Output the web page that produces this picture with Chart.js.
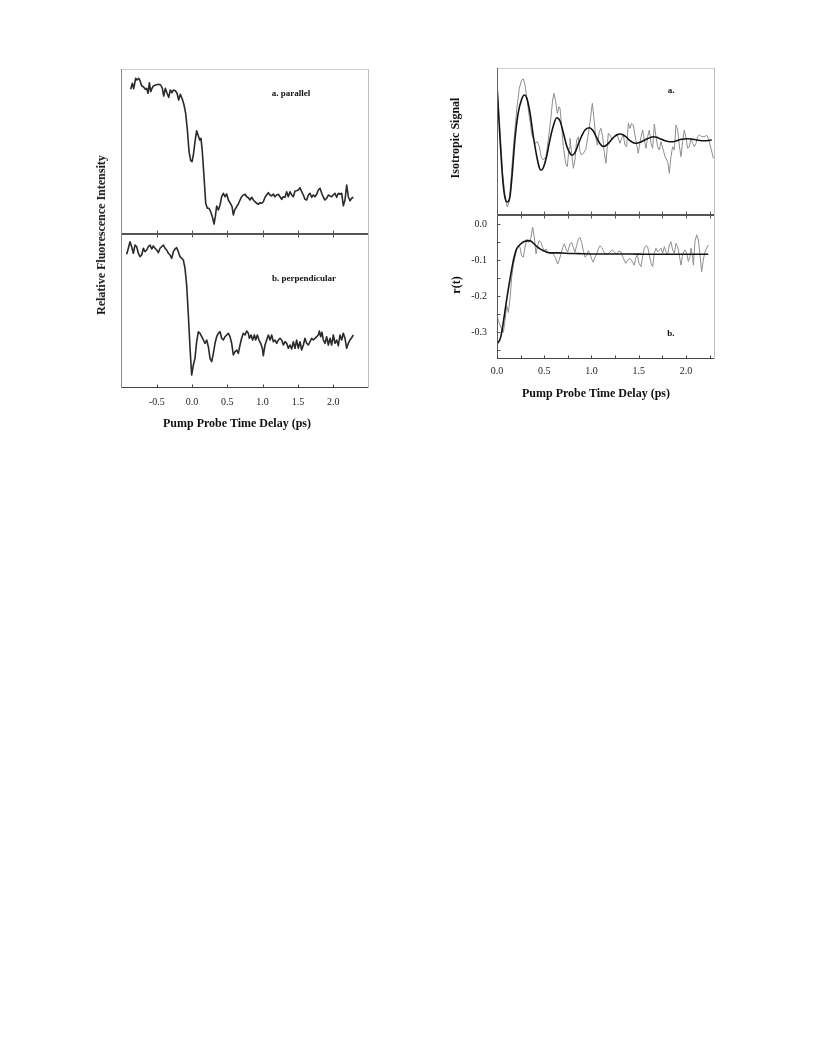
<!DOCTYPE html>
<html><head><meta charset="utf-8">
<script src="https://cdn.jsdelivr.net/npm/chart.js@4.4.1/dist/chart.umd.min.js"></script>
<style>
html,body{margin:0;padding:0;background:#fff;}
body{width:816px;height:1056px;position:relative;overflow:hidden;font-family:"Liberation Serif","Times New Roman",serif;}
canvas{position:absolute;}
.t{position:absolute;white-space:nowrap;font-weight:bold;color:#111;line-height:1;transform:translate(-50%,-50%);}
.r{transform:translate(-50%,-50%) rotate(-90deg);}
.s{font-size:9px;}
.b{font-size:12px;}
</style></head><body>
<canvas id="cA" width="268" height="185" style="left:111px;top:59px"></canvas>
<canvas id="cB" width="280" height="200" style="left:100px;top:224px"></canvas>
<canvas id="cC" width="238" height="167" style="left:487px;top:58px"></canvas>
<canvas id="cD" width="295" height="185" style="left:430px;top:205px"></canvas>

<div class="t s" style="left:291px;top:93px">a. parallel</div>
<div class="t s" style="left:304px;top:278px">b. perpendicular</div>
<div class="t s" style="left:671px;top:90px">a.</div>
<div class="t s" style="left:671px;top:333px">b.</div>
<div class="t b" style="left:237px;top:423px">Pump Probe Time Delay (ps)</div>
<div class="t b" style="left:596px;top:393px">Pump Probe Time Delay (ps)</div>
<div class="t b r" style="left:101px;top:235px">Relative Fluorescence Intensity</div>
<div class="t b r" style="left:455px;top:138px">Isotropic Signal</div>
<div class="t b r" style="left:456px;top:285px">r(t)</div>

<script>
// ---------- data ----------
const parTime = [-0.869,-0.845,-0.826,-0.798,-0.779,-0.755,-0.736,-0.713,-0.689,-0.661,
-0.642,-0.623,-0.604,-0.585,-0.567,-0.548,-0.515,-0.477,-0.444,-0.420,
-0.401,-0.378,-0.354,-0.330,-0.307,-0.283,-0.264,-0.236,-0.212,-0.189,
-0.165,-0.137,-0.113,-0.090,-0.066,-0.042,-0.019,0.000,0.019,0.042,
0.066,0.090,0.109,0.127,0.146,0.170,0.194,0.217,0.241,0.264,
0.288,0.312,0.330,0.349,0.373,0.397,0.420,0.444,0.467,0.491,
0.515,0.543,0.567,0.585,0.604,0.633,0.656,0.680,0.703,0.727,
0.751,0.774,0.798,0.821,0.845,0.869,0.892,0.916,0.939,0.963,
0.987,1.010,1.034,1.057,1.081,1.105,1.128,1.152,1.176,1.199,
1.223,1.246,1.270,1.294,1.317,1.341,1.364,1.388,1.412,1.435,
1.459,1.482,1.506,1.530,1.553,1.577,1.600,1.624,1.648,1.671,
1.695,1.718,1.742,1.766,1.789,1.813,1.837,1.860,1.884,1.907,
1.931,1.955,1.978,2.002,2.025,2.049,2.073,2.096,2.120,2.143,
2.167,2.191,2.214,2.238,2.261,2.285];
const parSignal = [143.7,149.7,144.3,154.7,153,154.7,152.3,147,146.3,143.7,
144.7,139.7,150.3,141.3,144.7,147,148,148.7,148,144.7,
137,144.7,139.7,135.7,143,140.3,143,142.3,139.7,133,
138.7,133.7,128,119.7,103,81.3,72.3,71.3,78,91.3,
102.3,97,93,94.7,81.3,56.3,29.7,24.7,24.7,21.3,
16.3,9,16.3,27,23,28,36.3,39.7,36.3,39,
33,29.7,26.3,18,23,26.3,29,33,36.3,38,
38.7,36.3,35.3,33,35.7,33,31.3,29.7,28.7,30.3,
29.7,31.3,35.7,38,40.3,38,37,39,36.3,38,
38.7,36.3,33.7,36.3,35.7,41.3,36.3,41.3,38,36.3,
42,42.3,43,45.3,41.3,38,33.7,33,38,39.7,
35.7,38,36.3,38.7,43,44.7,39.7,35.7,33,34.7,
38,37,36.3,38,39.7,35.7,39.7,38.7,39.7,27.3,
33,48,36.3,32.3,34.7,35.7];

const perpTime = [-0.925,-0.902,-0.878,-0.855,-0.831,-0.807,-0.784,-0.760,-0.736,-0.713,
-0.689,-0.666,-0.642,-0.618,-0.595,-0.571,-0.548,-0.524,-0.500,-0.477,
-0.453,-0.430,-0.406,-0.382,-0.359,-0.335,-0.312,-0.288,-0.264,-0.241,
-0.217,-0.194,-0.170,-0.146,-0.123,-0.099,-0.076,-0.052,-0.028,-0.005,
0.019,0.042,0.066,0.090,0.113,0.137,0.161,0.184,0.208,0.231,
0.255,0.279,0.302,0.326,0.349,0.373,0.397,0.420,0.444,0.467,
0.491,0.515,0.538,0.562,0.585,0.609,0.633,0.656,0.680,0.703,
0.727,0.751,0.774,0.798,0.812,0.836,0.859,0.883,0.902,0.925,
0.949,0.973,0.996,1.010,1.034,1.057,1.081,1.105,1.128,1.152,
1.176,1.199,1.223,1.246,1.270,1.294,1.317,1.341,1.364,1.388,
1.412,1.435,1.459,1.482,1.506,1.530,1.553,1.577,1.600,1.624,
1.648,1.671,1.695,1.718,1.742,1.766,1.789,1.804,1.822,1.841,
1.860,1.884,1.907,1.931,1.955,1.978,2.002,2.025,2.049,2.073,
2.096,2.120,2.143,2.167,2.191,2.214,2.238,2.261,2.285];
const perpSignal = [133.7,139.7,146.3,141.3,134.7,143,141.3,134.7,131.3,133,
139.7,136.3,138,141.3,143,139,142,139.7,138,135.3,
139.7,141.3,143,139.7,138,134.7,133,129.7,136.3,139,
140.3,136.3,131.3,129.7,128,119.7,103,73,39.7,13,
23,29.7,46.3,56.3,54.7,51.3,48,44.7,48,41.3,
29.7,26.3,34.7,44.7,51.3,54.7,56.3,49.7,48,51.3,
53,54.7,51.3,44.7,33,36.3,38,34.7,43,49.7,
54.7,53,57,54.7,49.7,53,48,53,48,53,
48,44.7,39.7,32.3,43,48,53,48,53,46.3,
48,44.7,48,49.7,48,43,46.3,44.7,39.7,43,
39,46.3,39.7,48,39.7,46.3,38,43,49.7,44.7,
43,46.3,49.7,48,49.7,51.3,53,57,51.3,55.7,
48,44.7,51.3,43,49.7,43,53,44.7,48,42.3,
53,48,54.7,49.7,39.7,44.7,48,50.3,53];

const isoTime = [0.004,0.032,0.060,0.088,0.109,0.131,0.155,0.180,0.208,0.236,
0.261,0.279,0.296,0.314,0.342,0.370,0.402,0.427,0.448,0.466,
0.490,0.518,0.543,0.568,0.589,0.603,0.621,0.638,0.656,0.667,
0.684,0.702,0.727,0.744,0.762,0.772,0.790,0.808,0.825,0.843,
0.861,0.878,0.896,0.913,0.938,0.956,0.973,0.991,1.009,1.026,
1.044,1.062,1.083,1.100,1.118,1.136,1.153,1.178,1.196,1.220,
1.241,1.266,1.284,1.301,1.319,1.337,1.354,1.372,1.390,1.407,
1.425,1.442,1.460,1.478,1.495,1.506,1.524,1.541,1.559,1.577,
1.594,1.612,1.630,1.647,1.665,1.682,1.700,1.718,1.735,1.760,
1.778,1.806,1.824,1.841,1.859,1.877,1.894,1.912,1.929,1.947,
1.965,1.982,2.000,2.018,2.035,2.053,2.070,2.088,2.106,2.123,
2.141,2.166,2.201,2.218,2.236,2.265,2.289];
const isoSignal = [126.7,85,41.7,16,8,14,45,75,105,126.7,
135,136,130,118.3,98.3,80,71.7,73.3,68.3,58.3,
55,58.3,75,95,115,121.7,113.3,101.7,108.3,106.7,
88.3,68.3,51.7,48.3,66.7,76.7,61.7,46.7,55,75,
78.3,63.3,60,61.7,65,75,85,98.3,111.7,96.7,
78.3,70,83.3,86.7,78.3,61.7,51.7,81.7,80,75,
78.3,81,76.7,71.7,76.7,80,70,68.3,91.7,86.7,
91.7,90,80,70,61.7,68.3,78.3,85,75,66.7,
78.3,85,71.7,66.7,91,78.3,68.3,65,73.3,65,
58.3,53.3,41.7,58.3,68.3,65,90,85,70,58.3,
73.3,85,76.7,66.7,68.3,76.7,71.7,68.3,71.7,78.3,
80,78.3,78.3,80,76.7,66.7,56.7];

const isoFitTime = [0.000,0.014,0.032,0.050,0.067,0.085,0.109,0.138,0.162,0.190,
0.225,0.261,0.289,0.314,0.349,0.384,0.420,0.448,0.466,0.490,
0.526,0.561,0.596,0.632,0.667,0.702,0.738,0.772,0.797,0.825,
0.860,0.896,0.931,0.977,1.019,1.055,1.090,1.125,1.161,1.196,
1.231,1.267,1.302,1.337,1.372,1.407,1.442,1.478,1.513,1.548,
1.584,1.619,1.654,1.690,1.725,1.778,1.831,1.866,1.902,1.954,
2.007,2.060,2.113,2.166,2.219,2.272];
const isoFit = [129,105.7,75.7,49,29,17.3,13,19,42.3,75.7,
102.3,115.7,120,117.3,102.3,79,59,47.3,44.7,47.3,
59,75.7,89,97.3,94,82.3,69,61.7,59.7,62.3,
70.7,79,85,87.3,84,77.3,71.3,68.5,70,73.5,
77.5,80,81,80,77.7,74.3,72.3,71.7,72.7,74.3,
76,77.3,78.3,77.7,76.3,74.3,73.3,73.3,74.3,75.7,
76.3,76,75,74.3,74.3,75];

const rTime = [0.000,0.014,0.042,0.067,0.085,0.102,0.120,0.138,0.155,0.173,
0.190,0.208,0.226,0.243,0.261,0.279,0.296,0.314,0.332,0.349,
0.360,0.377,0.395,0.413,0.430,0.448,0.466,0.483,0.501,0.519,
0.536,0.561,0.578,0.607,0.624,0.642,0.656,0.677,0.695,0.713,
0.730,0.748,0.772,0.790,0.808,0.825,0.843,0.861,0.878,0.896,
0.914,0.931,0.949,0.966,0.984,1.002,1.019,1.037,1.055,1.072,
1.090,1.108,1.125,1.143,1.171,1.196,1.220,1.242,1.266,1.291,
1.312,1.337,1.362,1.383,1.407,1.432,1.453,1.467,1.485,1.503,
1.524,1.538,1.559,1.577,1.594,1.612,1.630,1.647,1.665,1.683,
1.700,1.718,1.735,1.753,1.771,1.788,1.806,1.824,1.841,1.859,
1.877,1.894,1.912,1.929,1.947,1.961,1.975,1.989,2.007,2.025,
2.042,2.053,2.067,2.078,2.095,2.113,2.131,2.148,2.166,2.183,
2.201,2.219,2.236];
const rSignal = [-0.254,-0.268,-0.286,-0.300,-0.268,-0.226,-0.245,-0.208,-0.148,-0.115,
-0.092,-0.069,-0.060,-0.065,-0.088,-0.092,-0.065,-0.042,-0.051,-0.046,
-0.037,-0.009,-0.037,-0.083,-0.060,-0.046,-0.051,-0.065,-0.074,-0.069,
-0.078,-0.083,-0.078,-0.088,-0.097,-0.111,-0.102,-0.083,-0.065,-0.055,
-0.069,-0.078,-0.055,-0.051,-0.065,-0.078,-0.060,-0.042,-0.037,-0.051,
-0.074,-0.092,-0.088,-0.074,-0.083,-0.097,-0.106,-0.092,-0.083,-0.069,
-0.060,-0.065,-0.074,-0.083,-0.084,-0.077,-0.072,-0.077,-0.084,-0.075,
-0.077,-0.095,-0.109,-0.100,-0.095,-0.104,-0.114,-0.095,-0.086,-0.109,
-0.118,-0.095,-0.067,-0.060,-0.063,-0.086,-0.109,-0.118,-0.081,-0.067,
-0.077,-0.072,-0.067,-0.081,-0.063,-0.077,-0.086,-0.058,-0.049,-0.072,
-0.081,-0.054,-0.063,-0.086,-0.114,-0.090,-0.077,-0.072,-0.081,-0.104,
-0.090,-0.067,-0.086,-0.114,-0.049,-0.030,-0.044,-0.086,-0.132,-0.100,
-0.077,-0.067,-0.058];

const rFitTime = [0.000,0.014,0.032,0.050,0.067,0.085,0.103,0.120,0.138,0.156,
0.172,0.190,0.208,0.233,0.261,0.296,0.331,0.360,0.384,0.420,
0.455,0.490,0.526,0.579,0.649,0.720,0.860,1.037,1.196,1.400,
1.600,1.800,2.000,2.236];
const rFit = [-0.332,-0.328,-0.319,-0.300,-0.272,-0.240,-0.208,-0.180,-0.152,-0.125,
-0.102,-0.083,-0.069,-0.060,-0.053,-0.048,-0.046,-0.048,-0.053,-0.062,
-0.069,-0.074,-0.078,-0.080,-0.080,-0.081,-0.082,-0.083,-0.083,-0.083,
-0.084,-0.084,-0.084,-0.084];

// tick values / labels
const leftTicks = [-0.5, 0.0, 0.5, 1.0, 1.5, 2.0];
const rightMinorTicks = [0, 0.25, 0.5, 0.75, 1.0, 1.25, 1.5, 1.75, 2.0, 2.25];
const rightLabelTicks = [0.0, 0.5, 1.0, 1.5, 2.0];
const rYTicks = [0.0, -0.05, -0.1, -0.15, -0.2, -0.25, -0.3, -0.35];
const rYLabels = [0.0, -0.1, -0.2, -0.3];

// ---------- helpers ----------
function pts(xs, ys){ const n=Math.min(xs.length, ys.length); const o=[]; for(let i=0;i<n;i++) o.push({x:xs[i], y:ys[i]}); return o; }
const FONT = {family:'"Liberation Serif","Times New Roman",serif', size:10};
function noPad(s){ s.paddingTop=0; s.paddingBottom=0; s.paddingLeft=0; s.paddingRight=0; }

const frameTicks = {
  id:'frameTicks',
  afterDatasetsDraw(chart, args, o){
    const {ctx, chartArea:a, scales} = chart;
    const L=Math.round(a.left)+0.5, R=Math.round(a.right)-0.5, T=Math.round(a.top)+0.5, B=Math.round(a.bottom)-0.5;
    ctx.save(); ctx.lineWidth=1;
    const ln=(x1,y1,x2,y2,c)=>{ctx.strokeStyle=c;ctx.beginPath();ctx.moveTo(x1,y1);ctx.lineTo(x2,y2);ctx.stroke();};
    const e=o.edges||{};
    if(e.top) ln(L-0.5,T,R+0.5,T,e.top);
    if(e.bottom) ln(L-0.5,B,R+0.5,B,e.bottom);
    if(e.left) ln(L,T-0.5,L,B+0.5,e.left);
    if(e.right) ln(R,T-0.5,R,B+0.5,e.right);
    (o.xTicks||[]).forEach(t=>{
      t.values.forEach(v=>{
        const px=Math.round(scales.x.getPixelForValue(v))+0.5;
        if(t.edge==='bottom') ln(px,B,px,B-t.len,t.color);
        else ln(px,T,px,T+t.len,t.color);
      });
    });
    (o.yTicks||[]).forEach(t=>{
      t.values.forEach(v=>{
        const py=Math.round(scales.y.getPixelForValue(v))+0.5;
        ln(L,py,L+t.len,py,t.color);
      });
    });
    ctx.restore();
  }
};

function baseOpts(pad){
  return {responsive:false, animation:false, devicePixelRatio:1,
    layout:{padding:pad},
    plugins:{legend:{display:false}, tooltip:{enabled:false}},
    elements:{point:{radius:0}, line:{borderJoinStyle:'round'}}};
}
const hidden = (min,max)=>({type:'linear', display:false, min, max});

// ---------- Chart A: parallel ----------
const oA = baseOpts({left:10,right:10,top:10,bottom:10});
oA.scales = {x:hidden(-1.006,2.507), y:hidden(-1,164)};
oA.plugins.frameTicks = {edges:{top:'#cfcfcf', left:'#8a8a8a', right:'#bdbdbd', bottom:'#555'},
  xTicks:[{values:leftTicks, edge:'bottom', len:3, color:'#555'}]};
new Chart(document.getElementById('cA'), {type:'line',
  data:{datasets:[{data:pts(parTime,parSignal), borderColor:'#2a2a2a', borderWidth:1.6, tension:0, fill:false}]},
  options:oA, plugins:[frameTicks]});

// ---------- Chart B: perpendicular ----------
const oB = baseOpts({left:21,right:11,top:10,bottom:10});
oB.scales = {
  x:{type:'linear', min:-1.006, max:2.507, position:'bottom',
     grid:{display:false, drawTicks:false}, border:{display:false},
     ticks:{font:FONT, color:'#222', padding:8, autoSkip:false, maxRotation:0, callback:v=>Number(v).toFixed(1)},
     afterBuildTicks:s=>{s.ticks=leftTicks.map(v=>({value:v}));},
     afterFit:s=>{s.height=26; noPad(s);}},
  y:hidden(0,154)};
oB.plugins.frameTicks = {edges:{top:'#555', left:'#8a8a8a', right:'#bdbdbd', bottom:'#444'},
  xTicks:[{values:leftTicks, edge:'top', len:3, color:'#555'},{values:leftTicks, edge:'bottom', len:3, color:'#444'}]};
new Chart(document.getElementById('cB'), {type:'line',
  data:{datasets:[{data:pts(perpTime,perpSignal), borderColor:'#2a2a2a', borderWidth:1.6, tension:0, fill:false}]},
  options:oB, plugins:[frameTicks]});

// ---------- Chart C: isotropic ----------
const oC = baseOpts({left:10,right:10,top:10,bottom:10});
oC.scales = {x:hidden(0,2.307), y:hidden(0,147)};
oC.plugins.frameTicks = {edges:{top:'#cfcfcf', left:'#666', right:'#bdbdbd', bottom:'#555'},
  xTicks:[{values:rightMinorTicks, edge:'bottom', len:3, color:'#555'}]};
new Chart(document.getElementById('cC'), {type:'line',
  data:{datasets:[
    {data:pts(isoFitTime,isoFit), borderColor:'#141414', borderWidth:1.6, cubicInterpolationMode:'monotone', fill:false},
    {data:pts(isoTime,isoSignal), borderColor:'#8e8e8e', borderWidth:1, tension:0, fill:false}]},
  options:oC, plugins:[frameTicks]});

// ---------- Chart D: r(t) ----------
const oD = baseOpts({left:0,right:10,top:10,bottom:10});
oD.scales = {
  x:{type:'linear', min:0, max:2.307, position:'bottom',
     grid:{display:false, drawTicks:false}, border:{display:false},
     ticks:{font:FONT, color:'#222', padding:6, autoSkip:false, maxRotation:0, callback:v=>Number(v).toFixed(1)},
     afterBuildTicks:s=>{s.ticks=rightLabelTicks.map(v=>({value:v}));},
     afterFit:s=>{s.height=21; noPad(s);}},
  y:{type:'linear', min:-0.374, max:0.0249, position:'left',
     grid:{display:false, drawTicks:false}, border:{display:false},
     ticks:{font:FONT, color:'#222', padding:10, autoSkip:false, callback:v=>Number(v).toFixed(1)},
     afterBuildTicks:s=>{s.ticks=rYLabels.map(v=>({value:v}));},
     afterFit:s=>{s.width=67; noPad(s);}}};
oD.plugins.frameTicks = {edges:{top:'#555', left:'#555', right:'#bdbdbd', bottom:'#444'},
  xTicks:[{values:rightMinorTicks, edge:'top', len:3, color:'#555'},{values:rightMinorTicks, edge:'bottom', len:3, color:'#444'}],
  yTicks:[{values:rYTicks, len:3, color:'#555'}]};
new Chart(document.getElementById('cD'), {type:'line',
  data:{datasets:[
    {data:pts(rFitTime,rFit), borderColor:'#141414', borderWidth:1.6, cubicInterpolationMode:'monotone', fill:false},
    {data:pts(rTime,rSignal), borderColor:'#8e8e8e', borderWidth:1, tension:0, fill:false}]},
  options:oD, plugins:[frameTicks]});
</script>
</body></html>
